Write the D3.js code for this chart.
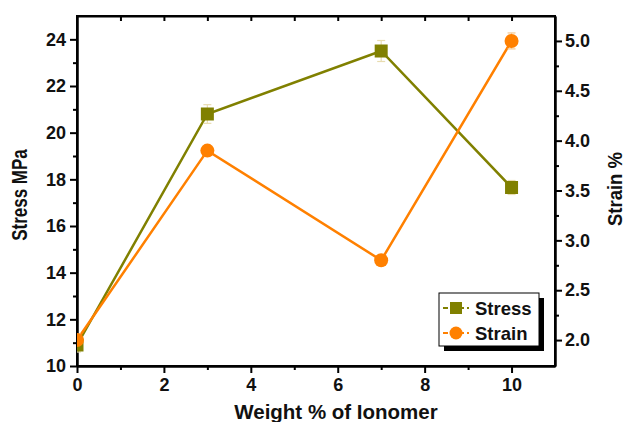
<!DOCTYPE html>
<html><head><meta charset="utf-8">
<script src="https://cdn.jsdelivr.net/npm/d3@7/dist/d3.min.js"></script>
<style>body{margin:0;background:#fff}</style>
</head><body>
<svg id="c" width="625" height="422"></svg>
<script>
const weights = [0, 3, 7, 10];
const stress = [10.9, 20.8, 23.5, 17.65];
const stressErr = [0.3, 0.4, 0.45, 0.3];
const strain = [2.0, 3.9, 2.8, 5.0];
const strainErr = [0.06, 0.05, 0.05, 0.08];
const xTicks = [0, 2, 4, 6, 8, 10];
const yLeftTicks = [10, 12, 14, 16, 18, 20, 22, 24];
const yRightTicks = [2.0, 2.5, 3.0, 3.5, 4.0, 4.5, 5.0];
const seriesNames = ["Stress", "Strain"];

const L = 77, R = 555, T = 16, B = 366;
const svg = d3.select("#c");
const x = d3.scaleLinear().domain([0, 11]).range([L, R]);
const yL = d3.scaleLinear().domain([10, 25]).range([B, T]);
const yR = d3.scaleLinear().domain([1.74, 5.25]).range([B, T]);
const olive = "#808000", orange = "#ff8000";
const font = "Arial, 'Liberation Sans', sans-serif";

svg.append("defs").append("clipPath").attr("id", "clip")
  .append("rect").attr("x", L).attr("y", T).attr("width", R - L).attr("height", B - T);

function styleAxis(g) {
  g.selectAll("path.domain").attr("stroke", "#000").attr("stroke-width", 2);
  g.selectAll(".tick line").attr("stroke", "#000").attr("stroke-width", 2);
  g.selectAll(".tick text").attr("font-family", font).attr("font-size", 18).attr("font-weight", "bold").attr("fill", "#111");
}

const xMinor = d3.range(1, 11, 2);
const yLMinor = d3.range(11, 25, 2);
const yRMinor = d3.range(2.25, 5.1, 0.5);

svg.append("g").attr("transform", `translate(0,${B})`)
  .call(d3.axisBottom(x).tickValues(xMinor).tickSize(4).tickFormat("").tickSizeOuter(0)).call(styleAxis);
svg.append("g").attr("transform", `translate(0,${B})`)
  .call(d3.axisBottom(x).tickValues(xTicks).tickSize(7).tickPadding(5).tickFormat(d3.format("d")).tickSizeOuter(0)).call(styleAxis);

svg.append("g").attr("transform", `translate(0,${T})`)
  .call(d3.axisBottom(x).tickValues(d3.range(1, 11, 1)).tickSize(5).tickFormat("").tickSizeOuter(0)).call(styleAxis);

svg.append("g").attr("transform", `translate(${L},0)`)
  .call(d3.axisLeft(yL).tickValues(yLMinor).tickSize(4).tickFormat("").tickSizeOuter(0)).call(styleAxis);
svg.append("g").attr("transform", `translate(${L},0)`)
  .call(d3.axisLeft(yL).tickValues(yLeftTicks).tickSize(7).tickPadding(4).tickFormat(d3.format("d")).tickSizeOuter(0)).call(styleAxis);

svg.append("g").attr("transform", `translate(${R},0)`)
  .call(d3.axisRight(yR).tickValues(yRMinor).tickSize(4).tickFormat("").tickSizeOuter(0)).call(styleAxis);
svg.append("g").attr("transform", `translate(${R},0)`)
  .call(d3.axisRight(yR).tickValues(yRightTicks).tickSize(7).tickPadding(3).tickFormat(d3.format(".1f")).tickSizeOuter(0)).call(styleAxis);

svg.append("rect").attr("x", L).attr("y", T).attr("width", R - L).attr("height", B - T)
  .attr("fill", "none").attr("stroke", "#000").attr("stroke-width", 2);

svg.append("text").attr("x", 336).attr("y", 419).attr("text-anchor", "middle")
  .attr("font-family", font).attr("font-size", 20.5).attr("font-weight", "bold").attr("fill", "#111").text("Weight % of Ionomer");
svg.append("text").attr("transform", `translate(27,195) scale(1.25,1) rotate(-90)`).attr("text-anchor", "middle")
  .attr("font-family", font).attr("font-size", 17).attr("font-weight", "bold").attr("fill", "#111").text("Stress MPa");
svg.append("text").attr("transform", `translate(622,189) scale(1.1,1) rotate(-90)`).attr("text-anchor", "middle")
  .attr("font-family", font).attr("font-size", 18.5).attr("font-weight", "bold").attr("fill", "#111").text("Strain %");

const plot = svg.append("g").attr("clip-path", "url(#clip)");

const dStress = weights.map((w, i) => ({ x: w, y: stress[i], e: stressErr[i] }));
const dStrain = weights.map((w, i) => ({ x: w, y: strain[i], e: strainErr[i] }));

plot.append("path").datum(dStress).attr("fill", "none").attr("stroke", olive).attr("stroke-width", 2.5)
  .attr("d", d3.line().x(d => x(d.x)).y(d => yL(d.y)));
plot.append("path").datum(dStrain).attr("fill", "none").attr("stroke", orange).attr("stroke-width", 2.5)
  .attr("d", d3.line().x(d => x(d.x)).y(d => yR(d.y)));

function errBars(data, ys, col) {
  const g = plot.append("g").attr("stroke", col).attr("stroke-width", 1.2);
  data.forEach(d => {
    g.append("line").attr("x1", x(d.x)).attr("x2", x(d.x)).attr("y1", ys(d.y - d.e)).attr("y2", ys(d.y + d.e));
    [d.y - d.e, d.y + d.e].forEach(v => g.append("line").attr("x1", x(d.x) - 4).attr("x2", x(d.x) + 4).attr("y1", ys(v)).attr("y2", ys(v)));
  });
}
errBars(dStress, yL, "#e8dcb0");
errBars(dStrain, yR, "#f5c890");

const sq = 13;
plot.selectAll("rect.s").data(dStress).join("rect").attr("x", d => x(d.x) - sq / 2).attr("y", d => yL(d.y) - sq / 2)
  .attr("width", sq).attr("height", sq).attr("fill", olive);
plot.selectAll("circle.s").data(dStrain).join("circle").attr("cx", d => x(d.x)).attr("cy", d => yR(d.y))
  .attr("r", 7).attr("fill", orange);

const lg = svg.append("g");
const lx = 439, ly = 293, lw = 100, lh = 53;
lg.append("rect").attr("x", lx + 5).attr("y", ly + 5).attr("width", lw).attr("height", lh).attr("fill", "#000");
lg.append("rect").attr("x", lx).attr("y", ly).attr("width", lw).attr("height", lh).attr("fill", "#fff").attr("stroke", "#000").attr("stroke-width", 1);
const cols = [olive, orange];
seriesNames.forEach((n, i) => {
  const yy = ly + 15 + i * 25;
  lg.append("line").attr("x1", lx + 4).attr("x2", lx + 30).attr("y1", yy).attr("y2", yy)
    .attr("stroke", cols[i]).attr("stroke-width", 2).attr("stroke-dasharray", "5,3");
  if (i === 0) lg.append("rect").attr("x", lx + 17 - 6).attr("y", yy - 6).attr("width", 12).attr("height", 12).attr("fill", olive);
  else lg.append("circle").attr("cx", lx + 17).attr("cy", yy).attr("r", 6.5).attr("fill", orange);
  lg.append("text").attr("x", lx + 36).attr("y", yy + 6.5).attr("font-family", font).attr("font-size", 18.5)
    .attr("font-weight", "bold").attr("fill", "#111").text(n);
});
</script>
</body></html>
